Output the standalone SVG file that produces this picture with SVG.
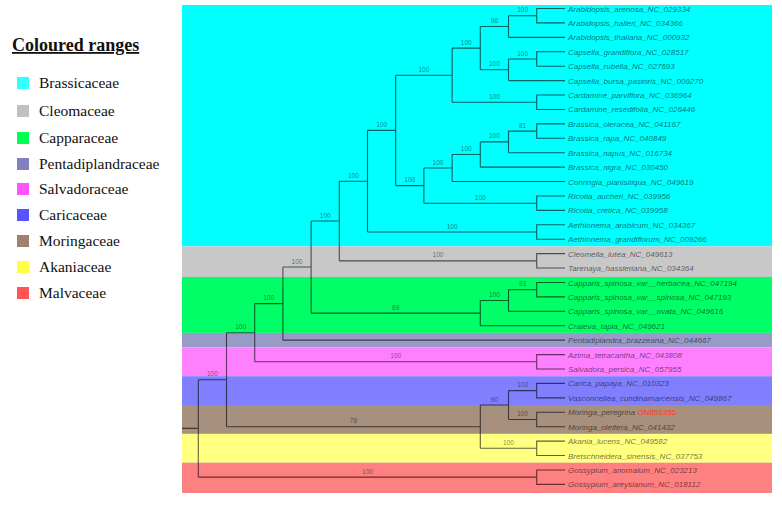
<svg xmlns="http://www.w3.org/2000/svg" width="782" height="505" viewBox="0 0 782 505">
<style>
.leg{font-family:"Liberation Serif","Times New Roman",serif;font-size:15.5px;fill:#111}
.ttl{font-family:"Liberation Serif","Times New Roman",serif;font-size:18px;font-weight:bold;fill:#111;text-decoration:underline}
.tip{font-family:"Liberation Sans",Arial,sans-serif;font-size:8px;font-style:italic;fill:#000;fill-opacity:0.58}
.bs{font-family:"Liberation Sans",Arial,sans-serif;font-size:6.5px;fill:#000;fill-opacity:0.5;text-anchor:middle}
.br{fill:none;stroke:#000;stroke-opacity:0.62;stroke-width:1.1}
.acc{fill:#ff3a2a;fill-opacity:1;font-style:normal}
</style>
<rect width="782" height="505" fill="#fff"/>
<g id="ranges">
<rect x="182" y="5" width="590" height="241.4" fill="#00ffff"/>
<rect x="182" y="246.4" width="590" height="30.6" fill="#c8c8c8"/>
<rect x="182" y="277" width="590" height="55.9" fill="#00ff66"/>
<rect x="182" y="332.9" width="590" height="14.5" fill="#9a9ac8"/>
<rect x="182" y="347.4" width="590" height="28.8" fill="#ff80ff"/>
<rect x="182" y="376.2" width="590" height="28.8" fill="#8080ff"/>
<rect x="182" y="405" width="590" height="28.9" fill="#a8907e"/>
<rect x="182" y="433.9" width="590" height="28.8" fill="#ffff80"/>
<rect x="182" y="462.7" width="590" height="30.3" fill="#ff8080"/>
</g>
<g id="legend">
<text class="ttl" x="12" y="51">Coloured ranges</text>
<rect x="17" y="77" width="12" height="12" fill="#33ffff"/><text class="leg" x="39" y="88">Brassicaceae</text>
<rect x="17" y="105" width="12" height="12" fill="#c0c0c0"/><text class="leg" x="39" y="116">Cleomaceae</text>
<rect x="17" y="132" width="12" height="12" fill="#00ff55"/><text class="leg" x="39" y="143">Capparaceae</text>
<rect x="17" y="158" width="12" height="12" fill="#8080c0"/><text class="leg" x="39" y="169">Pentadiplandraceae</text>
<rect x="17" y="183" width="12" height="12" fill="#ff55ff"/><text class="leg" x="39" y="194">Salvadoraceae</text>
<rect x="17" y="209" width="12" height="12" fill="#5555ff"/><text class="leg" x="39" y="220">Caricaceae</text>
<rect x="17" y="235" width="12" height="12" fill="#a08070"/><text class="leg" x="39" y="246">Moringaceae</text>
<rect x="17" y="261" width="12" height="12" fill="#ffff44"/><text class="leg" x="39" y="272">Akaniaceae</text>
<rect x="17" y="287" width="12" height="12" fill="#ff5555"/><text class="leg" x="39" y="298">Malvaceae</text>
</g>
<g id="connectors">
<path class="br" d="M182,428.4H198.3 M198.3,379.7V477.15 M198.3,379.7H226.5 M198.3,477.15H536.7
M226.5,332.7V426.7 M226.5,332.7H254.7 M226.5,426.7H480.3
M254.7,303.6V361.8 M254.7,303.6H282.9 M254.7,361.8H536.7
M282.9,267.05V340.16 M282.9,267.05H311.1 M282.9,340.16H565
M311.1,221V313.1 M311.1,221H339.3 M311.1,313.1H480.3
M339.3,181.2V260.85 M339.3,181.2H367.5 M339.3,260.85H536.7
M367.5,130.4V232 M367.5,130.4H395.7 M367.5,232H536.7
M395.7,75.2V185.6 M395.7,75.2H452.1 M395.7,185.6H423.9
M452.1,48.15V102.2 M452.1,48.15H480.3 M452.1,102.2H536.7
M480.3,26.5V69.8 M480.3,26.5H508.5 M480.3,69.8H508.5
M508.5,15.7V37.34 M508.5,15.7H536.7 M508.5,37.34H565
M565,8.5H536.7V22.92H565
M508.5,59V80.6 M508.5,59H536.7 M508.5,80.6H565
M565,51.76H536.7V66.18H565
M565,95.02H536.7V109.44H565
M423.9,168V203.2 M423.9,168H452.1 M423.9,203.2H536.7
M452.1,154.5V181.54 M452.1,154.5H480.3 M452.1,181.54H565
M480.3,141.9V167.12 M480.3,141.9H508.5 M480.3,167.12H565
M508.5,131.1V152.7 M508.5,131.1H536.7 M508.5,152.7H565
M565,123.86H536.7V138.28H565
M565,195.96H536.7V210.38H565
M565,224.8H536.7V239.22H565
M565,253.64H536.7V268.06H565
M480.3,300.5V325.74 M480.3,300.5H508.5 M480.3,325.74H565
M508.5,289.7V311.32 M508.5,289.7H536.7 M508.5,311.32H565
M565,282.48H536.7V296.9H565
M565,354.58H536.7V369H565
M480.3,405.05V448.3 M480.3,405.05H508.5 M480.3,448.3H536.7
M508.5,390.6V419.5 M508.5,390.6H536.7 M508.5,419.5H536.7
M565,383.42H536.7V397.84H565
M565,412.26H536.7V426.68H565
M565,441.1H536.7V455.52H565
M565,469.94H536.7V484.36H565"/>
<g id="support">
<text class="bs" x="212.4" y="376.2">100</text>
<text class="bs" x="367.5" y="473.6">100</text>
<text class="bs" x="240.6" y="329.2">100</text>
<text class="bs" x="353.4" y="423.2">78</text>
<text class="bs" x="268.8" y="300.1">100</text>
<text class="bs" x="395.7" y="358.3">100</text>
<text class="bs" x="297" y="263.5">100</text>
<text class="bs" x="325.2" y="217.5">100</text>
<text class="bs" x="395.7" y="309.6">69</text>
<text class="bs" x="353.4" y="177.7">100</text>
<text class="bs" x="438" y="257.3">100</text>
<text class="bs" x="381.6" y="126.9">100</text>
<text class="bs" x="452.1" y="228.5">100</text>
<text class="bs" x="423.9" y="71.7">100</text>
<text class="bs" x="409.8" y="182.1">100</text>
<text class="bs" x="466.2" y="44.6">100</text>
<text class="bs" x="494.4" y="98.7">100</text>
<text class="bs" x="494.4" y="23">96</text>
<text class="bs" x="494.4" y="66.3">100</text>
<text class="bs" x="522.6" y="12.2">100</text>
<text class="bs" x="522.6" y="55.5">100</text>
<text class="bs" x="438" y="164.5">100</text>
<text class="bs" x="480.3" y="199.7">100</text>
<text class="bs" x="466.2" y="151">100</text>
<text class="bs" x="494.4" y="138.4">100</text>
<text class="bs" x="522.6" y="127.6">81</text>
<text class="bs" x="494.4" y="297">100</text>
<text class="bs" x="522.6" y="286.2">93</text>
<text class="bs" x="494.4" y="401.5">90</text>
<text class="bs" x="508.5" y="444.8">100</text>
<text class="bs" x="522.6" y="387.1">100</text>
<text class="bs" x="522.6" y="416">100</text>
</g>
</g>
<g id="tips">
<g id="t01"><text class="tip" x="568" y="11.5">Arabidopsis_arenosa_NC_029334</text></g>
<g id="t02"><text class="tip" x="568" y="25.9">Arabidopsis_halleri_NC_034366</text></g>
<g id="t03"><text class="tip" x="568" y="40.3">Arabidopsis_thaliana_NC_000932</text></g>
<g id="t04"><text class="tip" x="568" y="54.8">Capsella_grandiflora_NC_028517</text></g>
<g id="t05"><text class="tip" x="568" y="69.2">Capsella_rubella_NC_027693</text></g>
<g id="t06"><text class="tip" x="568" y="83.6">Capsella_bursa_pastoris_NC_009270</text></g>
<g id="t07"><text class="tip" x="568" y="98">Cardamine_parviflora_NC_036964</text></g>
<g id="t08"><text class="tip" x="568" y="112.4">Cardamine_resedifolia_NC_026446</text></g>
<g id="t09"><text class="tip" x="568" y="126.9">Brassica_oleracea_NC_041167</text></g>
<g id="t10"><text class="tip" x="568" y="141.3">Brassica_rapa_NC_040849</text></g>
<g id="t11"><text class="tip" x="568" y="155.7">Brassica_napus_NC_016734</text></g>
<g id="t12"><text class="tip" x="568" y="170.1">Brassica_nigra_NC_030450</text></g>
<g id="t13"><text class="tip" x="568" y="184.5">Conringia_planisiliqua_NC_049619</text></g>
<g id="t14"><text class="tip" x="568" y="199">Ricotia_aucheri_NC_039956</text></g>
<g id="t15"><text class="tip" x="568" y="213.4">Ricotia_cretica_NC_039958</text></g>
<g id="t16"><text class="tip" x="568" y="227.8">Aethionema_arabicum_NC_034367</text></g>
<g id="t17"><text class="tip" x="568" y="242.2">Aethionema_grandiflorum_NC_009266</text></g>
<g id="t18"><text class="tip" x="568" y="256.6">Cleomella_lutea_NC_049613</text></g>
<g id="t19"><text class="tip" x="568" y="271.1">Tarenaya_hassleriana_NC_034364</text></g>
<g id="t20"><text class="tip" x="568" y="285.5">Capparis_spinosa_var__herbacea_NC_047194</text></g>
<g id="t21"><text class="tip" x="568" y="299.9">Capparis_spinosa_var__spinosa_NC_047193</text></g>
<g id="t22"><text class="tip" x="568" y="314.3">Capparis_spinosa_var__ovata_NC_049616</text></g>
<g id="t23"><text class="tip" x="568" y="328.7">Crateva_tapia_NC_049621</text></g>
<g id="t24"><text class="tip" x="568" y="343.2">Pentadiplandra_brazzeana_NC_044667</text></g>
<g id="t25"><text class="tip" x="568" y="357.6">Azima_tetracantha_NC_043808</text></g>
<g id="t26"><text class="tip" x="568" y="372">Salvadora_persica_NC_057955</text></g>
<g id="t27"><text class="tip" x="568" y="386.4">Carica_papaya_NC_010323</text></g>
<g id="t28"><text class="tip" x="568" y="400.8">Vasconcellea_cundinamarcensis_NC_049867</text></g>
<g id="t29"><text class="tip" x="568" y="415.3">Moringa_peregrina <tspan class="acc">ON855355</tspan></text></g>
<g id="t30"><text class="tip" x="568" y="429.7">Moringa_oleifera_NC_041432</text></g>
<g id="t31"><text class="tip" x="568" y="444.1">Akania_lucens_NC_049582</text></g>
<g id="t32"><text class="tip" x="568" y="458.5">Bretschneidera_sinensis_NC_037753</text></g>
<g id="t33"><text class="tip" x="568" y="472.9">Gossypium_anomalum_NC_023213</text></g>
<g id="t34"><text class="tip" x="568" y="487.4">Gossypium_areysianum_NC_018112</text></g>
</g>
</svg>
